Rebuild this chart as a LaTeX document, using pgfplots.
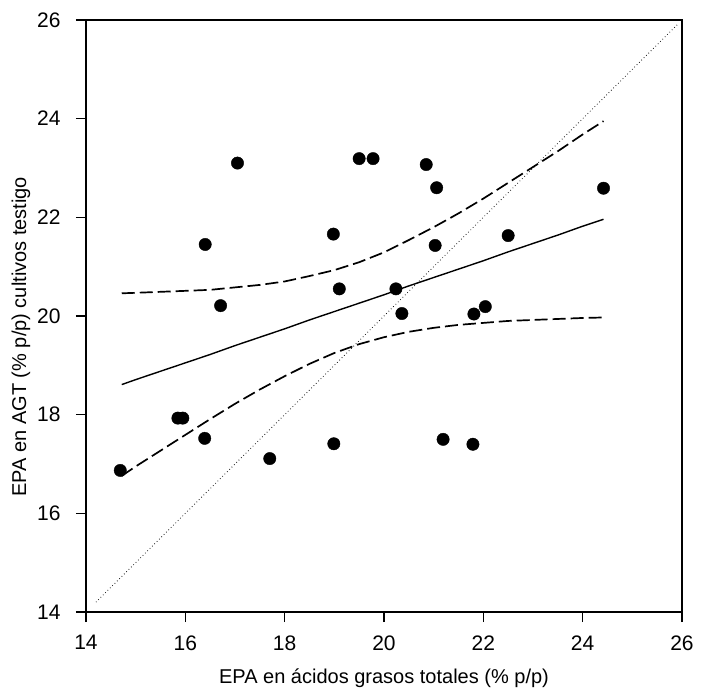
\documentclass[border=0pt]{standalone}
\usepackage{pgfplots}
\pgfplotsset{compat=1.18}
\usepackage{fontspec}
\setmainfont{Liberation Sans}

\pgfplotstableread{
x y
14.69 16.87
15.85 17.93
15.95 17.93
16.39 17.52
16.40 21.45
16.71 20.21
17.05 23.10
17.70 17.11
18.98 21.66
18.99 17.41
19.10 20.55
19.50 23.19
19.78 23.19
20.24 20.55
20.36 20.05
20.85 23.07
21.06 22.60
21.03 21.43
21.19 17.50
21.79 17.40
21.81 20.04
22.04 20.19
22.50 21.63
24.42 22.59
}\pts

\pgfplotstableread{
x fit up lo
14.72 18.61 20.46 16.76
15.00 18.71 20.47 16.95
15.50 18.88 20.49 17.27
16.00 19.05 20.51 17.59
16.50 19.22 20.53 17.91
17.00 19.40 20.58 18.22
17.50 19.57 20.63 18.51
18.00 19.74 20.70 18.78
18.50 19.92 20.81 19.03
19.00 20.09 20.93 19.25
19.50 20.26 21.09 19.43
20.00 20.43 21.29 19.57
20.50 20.61 21.54 19.68
21.00 20.78 21.80 19.76
21.50 20.95 22.08 19.82
22.00 21.12 22.38 19.86
22.50 21.30 22.70 19.90
23.00 21.47 23.02 19.92
23.50 21.64 23.34 19.94
24.00 21.82 23.68 19.96
24.42 21.96 23.95 19.97
}\fit

\begin{document}
\begin{tikzpicture}
\begin{axis}[
  scale only axis, width=596pt, height=592pt,
  xmin=14, xmax=26, ymin=14, ymax=26,
  xtick={14,16,...,26}, ytick={14,16,...,26},
  tick pos=left, tick align=outside,
  major tick length=10pt,
  axis line style={line width=1.4pt},
  every tick/.style={black, line width=1.4pt},
  tick label style={font=\fontsize{21}{24}\selectfont},
  xticklabel style={yshift=-10pt},
  yticklabel style={xshift=-12pt},
  label style={font=\fontsize{20}{24}\selectfont},
  /pgf/number format/assume math mode=true,
  xlabel={EPA en ácidos grasos totales (\% p/p)},
  ylabel={EPA en AGT (\% p/p) cultivos testigo},
  xlabel style={at={(axis description cs:0.5,0)}, anchor=center, yshift=-66pt},
  ylabel style={at={(axis description cs:0,0.465)}, anchor=center, yshift=65pt},
  clip=false,
]
\addplot[black, line width=0.8pt, dash pattern=on 0.7pt off 2.6pt] coordinates {(14.2,14.2) (25.9,25.9)};
\addplot[black, line width=1.4pt] table[x=x, y=fit] {\fit};
\addplot[black, line width=1.7pt, dash pattern=on 13pt off 5pt] table[x=x, y=up] {\fit};
\addplot[black, line width=1.7pt, dash pattern=on 13pt off 5pt] table[x=x, y=lo] {\fit};
\addplot[only marks, mark=*, mark size=6.2pt, black] table[x=x, y=y] {\pts};
\end{axis}
\path ([xshift=-86pt,yshift=-82pt]current axis.south west) rectangle ([xshift=20pt,yshift=20pt]current axis.north east);
\end{tikzpicture}
\end{document}
